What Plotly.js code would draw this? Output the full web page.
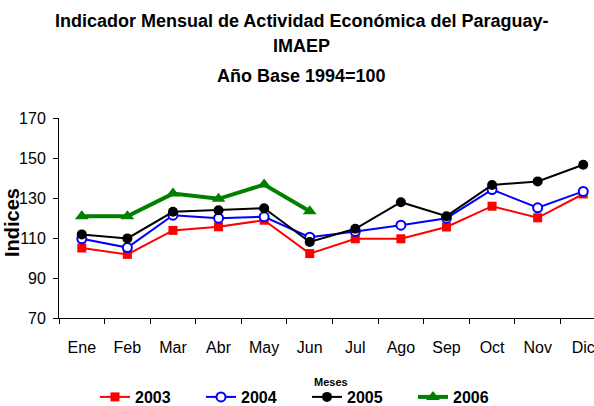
<!DOCTYPE html>
<html>
<head>
<meta charset="utf-8">
<script src="https://cdn.plot.ly/plotly-3.0.1.min.js"></script>
<style>html,body{margin:0;padding:0;background:#fff;}#chart{width:594px;height:406px;}</style>
</head>
<body>
<div id="chart"></div>
<script>
var months = ["Ene","Feb","Mar","Abr","May","Jun","Jul","Ago","Sep","Oct","Nov","Dic"];
var s2003 = [105.0, 101.8, 113.8, 115.6, 118.9, 102.2, 109.6, 109.6, 115.5, 125.9, 120.1, 132.0];
var s2004 = [109.6, 105.2, 121.4, 119.9, 120.6, 110.4, 113.3, 116.4, 119.9, 134.2, 125.1, 133.3];
var s2005 = [111.8, 109.8, 123.1, 123.9, 124.9, 108.0, 114.6, 127.9, 120.9, 136.5, 138.3, 146.6];
var s2006 = [120.9, 120.9, 132.2, 129.6, 136.7, 123.4];
var months2006 = months.slice(0, s2006.length);
var yTicks = [70, 90, 110, 130, 150, 170];

var F = "Liberation Sans, Arial, sans-serif";
var T = 118, B = 88, L = 59, H = 406 - T - B, W = 594 - L;
function py(pix) { return (406 - B - pix) / H; }
function px(pix) { return (pix - L) / W; }

var traces = [
  {x: months, y: s2003, name: "2003", type: "scatter", mode: "lines+markers",
   line: {color: "#ff0000", width: 2}, marker: {symbol: "square", size: 9, color: "#ff0000"}},
  {x: months, y: s2004, name: "2004", type: "scatter", mode: "lines+markers",
   line: {color: "#0000ff", width: 2}, marker: {symbol: "circle", size: 9, color: "#ffffff", line: {color: "#0000ff", width: 2}}},
  {x: months, y: s2005, name: "2005", type: "scatter", mode: "lines+markers",
   line: {color: "#000000", width: 2}, marker: {symbol: "circle", size: 10, color: "#000000"}},
  {x: months2006, y: s2006, name: "2006", type: "scatter", mode: "lines+markers",
   line: {color: "#008000", width: 4}, marker: {symbol: "triangle-up", size: 12, color: "#008000"}}
];

var layout = {
  width: 594, height: 406,
  margin: {l: L, r: 0, t: T, b: B, pad: 0, autoexpand: false},
  paper_bgcolor: "#ffffff", plot_bgcolor: "#ffffff",
  showlegend: true,
  font: {family: F, color: "#000000", size: 16},
  xaxis: {
    type: "category", categoryorder: "array", categoryarray: months,
    range: [-0.5, 11.236],
    showline: true, linecolor: "#000000", linewidth: 1,
    ticks: "outside", ticklen: 5, tickcolor: "#000000", tickwidth: 1,
    tickson: "boundaries",
    showgrid: false, zeroline: false, automargin: false,
    tickfont: {family: F, size: 16, color: "#000000"},
    ticklabelstandoff: 15
  },
  yaxis: {
    range: [70, 170], tickvals: yTicks, ticktext: yTicks.map(String),
    showline: true, linecolor: "#000000", linewidth: 1,
    ticks: "outside", ticklen: 5, tickcolor: "#000000", tickwidth: 1,
    showgrid: false, zeroline: false, automargin: false,
    tickfont: {family: F, size: 16, color: "#000000"},
    ticklabelstandoff: 4
  },
  legend: {
    orientation: "h", x: px(95), xanchor: "left", y: py(380), yanchor: "top",
    font: {family: F, size: 16, color: "#000000", weight: "bold"},
    entrywidth: 61, entrywidthmode: "pixels",
    bgcolor: "rgba(0,0,0,0)", traceorder: "normal"
  },
  annotations: [
    {text: "Indicador Mensual de Actividad Económica del Paraguay-", xref: "paper", yref: "paper",
     x: px(301), y: py(21), xanchor: "center", yanchor: "middle", showarrow: false,
     font: {family: F, size: 18, weight: "bold"}},
    {text: "IMAEP", xref: "paper", yref: "paper",
     x: px(301), y: py(46), xanchor: "center", yanchor: "middle", showarrow: false,
     font: {family: F, size: 18, weight: "bold"}},
    {text: "Año Base 1994=100", xref: "paper", yref: "paper",
     x: px(301), y: py(76), xanchor: "center", yanchor: "middle", showarrow: false,
     font: {family: F, size: 18, weight: "bold"}},
    {text: "Indices", xref: "paper", yref: "paper",
     x: px(12), y: py(223), xanchor: "center", yanchor: "middle", showarrow: false,
     textangle: -90, font: {family: F, size: 20, weight: "bold"}},
    {text: "Meses", xref: "paper", yref: "paper",
     x: px(331), y: py(382), xanchor: "center", yanchor: "middle", showarrow: false,
     font: {family: F, size: 11, weight: "bold"}}
  ]
};

Plotly.newPlot("chart", traces, layout, {displayModeBar: false, staticPlot: true});
</script>
</body>
</html>
